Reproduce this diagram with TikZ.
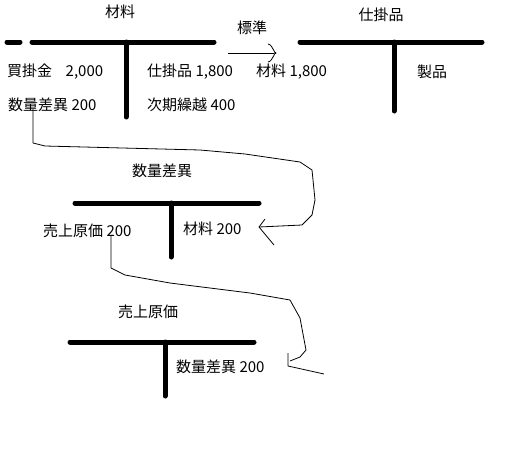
\documentclass[tikz,border=0pt]{standalone}
\usepackage{fontspec}
\setmainfont{Noto Sans CJK JP}
\usetikzlibrary{calc}
\tikzstyle{tbar}=[line width=5pt,line cap=round]
\tikzstyle{entry}=[anchor=west,inner sep=0pt]
\tikzstyle{title}=[inner sep=0pt]
\tikzstyle{hand}=[line width=0.8pt,line join=round]

\begin{document}
\begin{tikzpicture}[x=1pt,y=-1pt,font=\fontsize{15pt}{17pt}\selectfont]
	\useasboundingbox (0,0) rectangle (527,463);

	% materials account
	\node[title] (tmat) at (120,12) {材料};
	\draw[tbar] (7,42) -- (20,42);
	\draw[tbar] (32,42) -- (214,42);
	\draw[tbar] (126,42) -- (126,117);
	\node[entry] (ap) at (7,72) {買掛金\hspace{0.9em}2,000};
	\node[entry] (dv1) at (8,105) {数量差異 200};
	\node[entry] (wip1) at (147,72) {仕掛品 1,800};
	\node[entry] (cf) at (147,105) {次期繰越 400};

	% standard arrow
	\node[title] (std) at (252,28) {標準};
	\coordinate (stdL) at (228,53);
	\coordinate (stdR) at (274,53);
	\draw[hand] (stdL) -- (stdR);
	\draw[hand] (268,44) to[out=0,in=-90] (276,53) to[out=90,in=0] (268,62);

	% work in process account
	\node[title] (twip) at (381,15) {仕掛品};
	\draw[tbar] (300,42) -- (482,42);
	\draw[tbar] (394,42) -- (394,111);
	\node[entry] (mat1) at (256,72) {材料 1,800};
	\node[entry] (fg) at (417,72) {製品};

	% quantity variance account
	\node[title] (tdv) at (162,171) {数量差異};
	\draw[tbar] (75,203) -- (259,203);
	\draw[tbar] (171,203) -- (171,257);
	\node[entry] (cgs1) at (43,231) {売上原価 200};
	\node[entry] (mat2) at (183,229) {材料 200};

	% cost of sales account
	\node[title] (tcgs) at (148,312) {売上原価};
	\draw[tbar] (70,342) -- (254,342);
	\draw[tbar] (165,342) -- (165,396);
	\node[entry] (dv2) at (176,367) {数量差異 200};

	% transfers
	\coordinate (hd1) at (259,227);
	\coordinate (hd2) at (290,361);
	\draw[hand] ($(dv1.south west)+(25,-3)$) -- (33,143) -- (45,146) -- (200,150)
		-- (245,154) -- (300,162) -- (312,170) -- (315,200) -- (312,215)
		-- (302,225) -- (hd1);
	\draw[hand] (265,219) -- (hd1) -- (274,245);
	\draw[hand] ($(cgs1.south west)+(68,-3)$) -- (111,268) -- (125,275) -- (170,283)
		-- (250,293) -- (290,300) -- (300,318) -- (306,350) -- (300,357)
		-- (hd2);
	\draw[hand] (288,353) -- (288,366) -- (324,374);
\end{tikzpicture}
\end{document}
